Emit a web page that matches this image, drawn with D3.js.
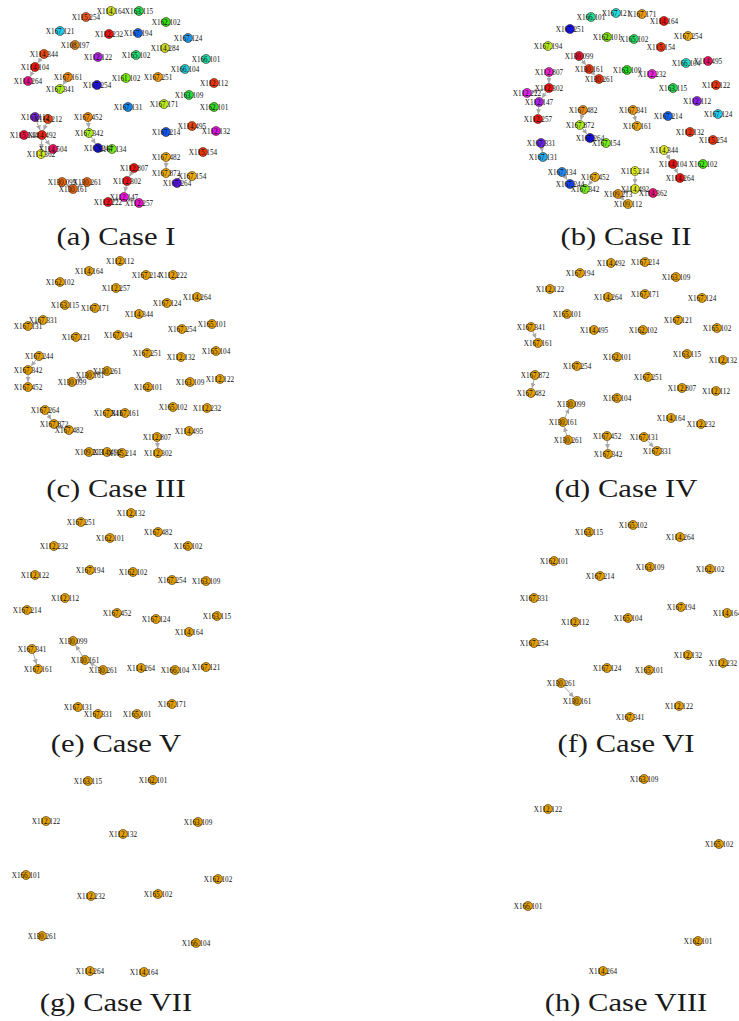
<!DOCTYPE html>
<html>
<head>
<meta charset="utf-8">
<script src="https://cdn.jsdelivr.net/npm/d3@7/dist/d3.min.js"></script>
<style>
  html, body { margin: 0; padding: 0; background: #fff; }
  svg { display: block; }
</style>
</head>
<body>
<script>
// Network layouts for eight cases: node id, layout x, layout y (layout units per panel)
const nodesA = [
  ["X114.164",111,11],["X163.115",139,11],["X115.254",86,17],["X162.102",166,22],
  ["X167.121",60,31],["X112.232",109,34],["X167.194",138,33],["X167.124",188,38],
  ["X108.197",75,45],["X114.284",165,48],["X114.344",44,54],["X112.122",98,57],
  ["X165.102",136,55],["X166.101",206,59],["X114.104",35,67],["X166.104",185,69],
  ["X167.161",68,77],["X161.102",126,78],["X167.251",158,77],["X114.264",28,81],
  ["X167.341",60,89],["X167.254",97,85],["X112.112",214,83],["X163.109",189,95],
  ["X167.131",128,107],["X167.171",164,104],["X162.101",214,107],["X167.112",35,117],
  ["X114.212",48,119],["X115.144",24,135],["X114.492",42,135],["X114.504",53,149],
  ["X114.362",41,154],["X167.452",88,117],["X167.342",89,133],["X167.244",98,148],
  ["X167.134",112,149],["X114.495",192,126],["X112.132",216,131],["X167.214",166,132],
  ["X115.154",203,152],["X167.482",166,157],["X112.807",134,168],["X167.872",166,173],
  ["X167.154",192,176],["X167.264",177,183],["X112.302",127,181],["X130.099",62,182],
  ["X130.261",87,182],["X130.161",73,189],["X112.147",124,197],["X112.222",108,202],
  ["X112.257",139,203]
];
const colorsA = [
  "#ccdd22","#22dd55","#ee5522","#33dd11","#22ccee","#ee1111","#1166ee","#2299ee",
  "#dd8822","#ccdd22","#ee4411","#aa22dd","#22dd77","#22ddaa","#ee1111","#22ccdd",
  "#ee8811","#77ee11","#ee9911","#ee1188","#aaee22","#2211dd","#ee3311","#22dd44",
  "#1188ee","#bbee22","#33dd22","#7722dd","#ee4411","#ee1144","#ee2211","#ee1166",
  "#ddee22","#ee8811","#aaee22","#1111dd","#77ee22","#ee4411","#dd11dd","#1155ee",
  "#ee3311","#eeaa11","#ee1111","#eeaa11","#eeaa11","#5511dd","#ee1122","#ee6611",
  "#ee6611","#ee6611","#ee11dd","#ee1122","#ee11cc"
];
const edgesA = [
  ["X114.344","X114.104"],["X114.104","X114.264"],["X167.161","X167.341"],
  ["X167.112","X114.492"],["X114.212","X114.492"],["X114.492","X114.362"],
  ["X114.492","X114.504"],["X167.452","X167.342"],["X167.342","X167.244"],
  ["X112.807","X112.302"],["X112.302","X112.147"],["X112.147","X112.222"],
  ["X112.147","X112.257"],["X167.482","X167.872"],["X130.261","X130.161"],
  ["X130.161","X130.099"]
];

const nodesB = [
  ["X166.101",96,17],["X167.121",121,13],["X167.171",147,14],["X114.164",169,21],
  ["X167.251",75,29],["X162.101",112,37],["X165.102",139,39],["X167.254",193,36],
  ["X167.194",53,46],["X115.154",166,47],["X130.099",84,56],["X166.104",191,63],
  ["X114.495",213,61],["X130.161",94,69],["X163.109",132,70],["X112.232",157,74],
  ["X112.807",54,72],["X130.261",104,79],["X112.302",54,88],["X163.115",178,88],
  ["X112.122",221,85],["X112.222",32,93],["X112.147",44,102],["X112.112",202,101],
  ["X112.257",43,119],["X167.482",88,110],["X167.341",138,110],["X167.214",173,116],
  ["X167.124",223,114],["X167.872",85,125],["X167.161",142,126],["X112.132",195,132],
  ["X115.254",218,140],["X167.264",95,138],["X167.154",111,143],["X167.331",46,143],
  ["X167.131",48,157],["X114.344",169,150],["X114.104",178,164],["X162.102",208,164],
  ["X114.264",185,178],["X115.214",140,171],["X167.134",67,172],["X167.452",100,177],
  ["X167.244",75,184],["X167.342",90,189],["X114.492",140,189],["X114.362",158,193],
  ["X109.213",123,194],["X109.112",133,204]
];
const colorsB = [
  "#22dd99","#22dddd","#ee9911","#ee1111","#1111ee","#77dd11","#22dd66","#eeaa11",
  "#bbee22","#ee3311","#ee1133","#22ddcc","#ee1166","#ee3311","#22dd22","#ee22dd",
  "#ee22cc","#ee3311","#ee1111","#22dd55","#ee3311","#dd22ee","#aa22ee","#8822ee",
  "#ee1111","#ee8811","#ee9911","#1166ee","#22ccee","#aaee22","#eeaa11","#ee3311",
  "#ee3311","#1111dd","#77ee22","#6622dd","#22aaee","#ddee22","#ee1111","#44ee11",
  "#ee1111","#ddee22","#2288ee","#eeaa11","#1144ee","#77ee22","#ddee22","#ee1177",
  "#ee9911","#eeaa11"
];
const edgesB = [
  ["X130.099","X130.161"],["X130.161","X130.261"],["X112.807","X112.302"],
  ["X112.302","X112.222"],["X112.302","X112.147"],["X112.147","X112.257"],
  ["X167.482","X167.872"],["X167.872","X167.264"],["X167.341","X167.161"],
  ["X167.331","X167.131"],["X114.344","X114.104"],["X114.104","X114.264"],
  ["X115.214","X114.492"],["X114.492","X109.213"],["X109.213","X109.112"],
  ["X167.134","X167.244"],["X167.452","X167.342"]
];

const nodesC = [
  ["X112.112",120,11],["X114.164",89,21],["X167.214",146,25],["X112.222",173,25],
  ["X162.102",60,32],["X112.257",116,38],["X114.264",197,47],["X167.124",167,53],
  ["X163.115",65,55],["X167.171",95,58],["X114.344",139,64],["X167.331",43,70],
  ["X167.131",28,76],["X165.101",212,74],["X167.254",182,79],["X167.121",76,87],
  ["X167.194",118,85],["X165.104",216,101],["X167.251",147,103],["X112.132",181,107],
  ["X167.244",39,106],["X167.342",28,120],["X167.452",28,137],["X130.261",107,121],
  ["X130.161",90,125],["X130.099",72,132],["X162.101",148,137],["X163.109",190,132],
  ["X112.122",220,129],["X167.264",45,160],["X167.341",108,163],["X167.161",125,163],
  ["X165.102",173,157],["X112.232",207,158],["X167.872",54,174],["X167.482",69,180],
  ["X114.495",189,181],["X112.807",157,187],["X112.302",158,203],["X109.213",89,202],
  ["X114.492",107,202],["X115.214",122,203]
];
const edgesC = [
  ["X167.331","X167.131"],["X167.244","X167.342"],["X167.342","X167.452"],
  ["X130.261","X130.161"],["X130.161","X130.099"],["X167.264","X167.872"],
  ["X167.872","X167.482"],["X112.807","X112.302"]
];

const nodesD = [
  ["X114.492",116,13],["X167.214",150,12],["X167.194",85,23],["X163.109",181,27],
  ["X112.122",55,39],["X114.264",113,47],["X167.171",150,44],["X167.124",207,48],
  ["X165.101",72,64],["X167.121",183,70],["X167.341",36,77],["X114.495",99,80],
  ["X162.102",148,80],["X165.102",222,78],["X167.161",43,93],["X162.101",122,107],
  ["X163.115",192,104],["X112.132",228,110],["X167.254",82,116],["X167.872",40,125],
  ["X167.251",153,127],["X112.807",187,138],["X112.112",221,141],["X167.482",36,143],
  ["X165.104",122,148],["X130.099",76,154],["X130.161",68,172],["X114.164",176,168],
  ["X112.232",206,174],["X130.261",73,190],["X167.452",112,186],["X167.131",149,187],
  ["X167.342",113,204],["X167.331",162,201]
];
const edgesD = [
  ["X167.341","X167.161"],["X167.872","X167.482"],["X130.161","X130.099"],
  ["X130.261","X130.161"],["X167.452","X167.342"],["X167.131","X167.331"]
];

const nodesE = [
  ["X112.132",131,8],["X167.251",81,17],["X167.482",158,27],["X162.101",110,33],
  ["X112.232",54,41],["X165.102",188,41],["X167.194",90,65],["X162.102",133,67],
  ["X112.122",35,70],["X167.254",172,75],["X163.109",206,76],["X112.112",65,93],
  ["X167.214",27,105],["X167.452",117,108],["X167.124",156,114],["X163.115",217,111],
  ["X114.164",189,127],["X130.099",73,136],["X167.341",32,144],["X130.161",85,155],
  ["X130.261",103,165],["X167.161",38,164],["X114.264",141,163],["X166.104",175,165],
  ["X167.121",206,162],["X167.171",172,199],["X167.131",78,202],["X167.331",98,209],
  ["X165.101",137,209]
];
const edgesE = [
  ["X167.341","X167.161"],["X130.161","X130.099"],["X130.261","X130.161"]
];

const nodesF = [
  ["X165.102",138,20],["X163.115",94,27],["X114.264",185,32],["X162.101",59,56],
  ["X163.109",155,62],["X162.102",215,64],["X167.214",105,71],["X167.331",39,93],
  ["X167.194",186,102],["X114.164",232,108],["X165.104",133,113],["X112.112",80,117],
  ["X167.254",39,138],["X112.132",193,150],["X112.232",228,158],["X167.124",112,163],
  ["X165.101",154,165],["X130.261",66,178],["X130.161",82,196],["X112.122",184,201],
  ["X167.341",135,212]
];
const edgesF = [["X130.261","X130.161"]];

const nodesG = [
  ["X163.115",88,16],["X162.101",153,15],["X112.122",46,56],["X163.109",198,57],
  ["X112.132",123,69],["X166.101",26,110],["X162.102",218,114],["X112.232",91,131],
  ["X165.102",158,129],["X130.261",42,171],["X166.104",196,178],["X114.264",90,206],
  ["X114.164",144,207]
];
const edgesG = [];

const nodesH = [
  ["X163.109",149,14],["X112.122",53,44],["X165.102",224,79],["X166.101",33,141],
  ["X162.101",203,176],["X114.264",108,206]
];
const edgesH = [];

const captions = ["(a) Case I","(b) Case II","(c) Case III","(d) Case IV",
                  "(e) Case V","(f) Case VI","(g) Case VII","(h) Case VIII"];

const W = 739, H = 1021;
const colX = [0, 495];
const rowY = [0, 250, 505, 765];
const captionY = [245, 497, 752, 1011];
const captionX = [116, 626];
const defaultFill = "#E69F00";

const panels = [
  {nodes: nodesA, edges: edgesA, colors: colorsA},
  {nodes: nodesB, edges: edgesB, colors: colorsB},
  {nodes: nodesC, edges: edgesC},
  {nodes: nodesD, edges: edgesD},
  {nodes: nodesE, edges: edgesE},
  {nodes: nodesF, edges: edgesF},
  {nodes: nodesG, edges: edgesG},
  {nodes: nodesH, edges: edgesH}
];

const svg = d3.select("body").append("svg")
  .attr("width", W).attr("height", H)
  .attr("viewBox", `0 0 ${W} ${H}`);

svg.append("rect").attr("width", W).attr("height", H).attr("fill", "#fff");

svg.append("defs").append("marker")
  .attr("id", "arrow")
  .attr("viewBox", "0 -5 10 10")
  .attr("refX", 10).attr("refY", 0)
  .attr("markerWidth", 5).attr("markerHeight", 5)
  .attr("markerUnits", "userSpaceOnUse")
  .attr("orient", "auto")
  .append("path").attr("d", "M0,-5L10,0L0,5Z").attr("fill", "#a8a8a8");

const R = 4.5;

panels.forEach((p, i) => {
  const c = i % 2, r = Math.floor(i / 2);
  const x = d3.scaleLinear().domain([0, 240]).range([colX[c], colX[c] + 240]);
  const y = d3.scaleLinear().domain([0, 220]).range([rowY[r], rowY[r] + 220]);
  const pos = new Map(p.nodes.map(d => [d[0], [x(d[1]), y(d[2])]]));
  const g = svg.append("g");

  // edges, trimmed to the node rims
  g.selectAll("line").data(p.edges).join("line")
    .each(function(e) {
      const [x1, y1] = pos.get(e[0]), [x2, y2] = pos.get(e[1]);
      const dx = x2 - x1, dy = y2 - y1, L = Math.hypot(dx, dy) || 1;
      d3.select(this)
        .attr("x1", x1 + dx / L * R).attr("y1", y1 + dy / L * R)
        .attr("x2", x2 - dx / L * (R + 0.5)).attr("y2", y2 - dy / L * (R + 0.5));
    })
    .attr("stroke", "#a8a8a8").attr("stroke-width", 1)
    .attr("marker-end", "url(#arrow)");

  // nodes
  g.selectAll("circle").data(p.nodes).join("circle")
    .attr("cx", d => x(d[1])).attr("cy", d => y(d[2]))
    .attr("r", R)
    .attr("fill", (d, j) => p.colors ? p.colors[j] : defaultFill)
    .attr("stroke", "#3a2a10").attr("stroke-width", 0.6);

  // node labels on top
  g.selectAll("text").data(p.nodes).join("text")
    .attr("x", d => x(d[1])).attr("y", d => y(d[2]))
    .attr("dy", "0.35em")
    .attr("text-anchor", "middle")
    .attr("font-family", "'Liberation Serif', 'Times New Roman', serif")
    .attr("font-size", 7.2)
    .attr("fill", "#111")
    .text(d => d[0]);

  // panel caption, widened to a roman text face proportion
  const cap = svg.append("text")
    .attr("x", captionX[c]).attr("y", captionY[r])
    .attr("text-anchor", "middle")
    .attr("font-family", "'Liberation Serif', 'Times New Roman', serif")
    .attr("font-size", 25.5)
    .attr("fill", "#1a1a1a")
    .text(captions[i]);
  const len = cap.node().getComputedTextLength();
  cap.attr("textLength", len * 1.2).attr("lengthAdjust", "spacingAndGlyphs");
});
</script>
</body>
</html>
